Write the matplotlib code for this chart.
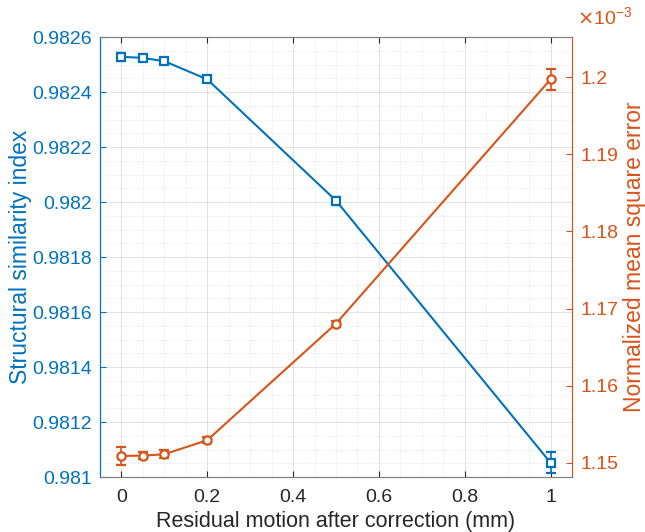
import numpy as np
import matplotlib
matplotlib.use("Agg")
import matplotlib.pyplot as plt
from matplotlib.ticker import MultipleLocator

plt.rcParams['font.family'] = ['Liberation Sans', 'DejaVu Sans']

# data
motion = [0, 0.05, 0.1, 0.2, 0.5, 1.0]
ssim = [0.982528, 0.982524, 0.982512, 0.982446, 0.982005, 0.981052]
ssim_err = [0.000015, 0.000008, 0.000008, 0.000006, 0.000015, 0.000039]
nmse = [1.15091, 1.15095, 1.15113, 1.15295, 1.16805, 1.19970]  # x 1e-3
nmse_err = [0.0012, 0.0005, 0.0005, 0.0004, 0.0004, 0.0014]

blue = '#0072BD'
orange = '#D95319'
dark = '#262626'

fig = plt.figure(figsize=(6.45, 5.32), dpi=100)
ax = fig.add_axes([100/645, 1 - 477/532, 472/645, 440/532])
ax2 = ax.twinx()

ax.errorbar(motion, ssim, yerr=ssim_err, color=blue, lw=1.5, marker='s',
            ms=5.5, mfc='white', mec=blue, mew=1.6, capsize=3.5, elinewidth=1.2, capthick=1.2)
ax2.errorbar(motion, nmse, yerr=nmse_err, color=orange, lw=1.5, marker='o',
             ms=6, mfc='white', mec=orange, mew=1.6, capsize=3.5, elinewidth=1.2, capthick=1.2)

ax.set_xlim(-0.05, 1.05)
ax.set_ylim(0.981, 0.9826)
ax2.set_ylim(1.14818, 1.20519)

ax.set_xticks([0, 0.2, 0.4, 0.6, 0.8, 1])
ax.set_xticklabels(['0', '0.2', '0.4', '0.6', '0.8', '1'])
ax.set_yticks(np.arange(0.981, 0.98261, 0.0002))
ax.set_yticklabels(['0.981', '0.9812', '0.9814', '0.9816', '0.9818', '0.982',
                    '0.9822', '0.9824', '0.9826'])
ax2.set_yticks([1.15, 1.16, 1.17, 1.18, 1.19, 1.2])
ax2.set_yticklabels(['1.15', '1.16', '1.17', '1.18', '1.19', '1.2'])

ax.xaxis.set_minor_locator(MultipleLocator(0.05))
ax.yaxis.set_minor_locator(MultipleLocator(0.00005))

ax.grid(True, which='major', color='#262626', alpha=0.15, lw=0.6)
ax.grid(True, which='minor', color='#262626', alpha=0.15, lw=0.6, ls=':')
ax.set_axisbelow(True)

ax.tick_params(axis='x', which='major', direction='in', top=True, length=4,
               labelsize=14, colors=dark, pad=9)
ax.tick_params(axis='x', which='minor', length=0)
ax.tick_params(axis='y', which='major', direction='in', length=4, labelsize=14,
               colors=blue, pad=6)
ax.tick_params(axis='y', which='minor', length=0)
ax2.tick_params(axis='y', direction='in', length=4, labelsize=14, colors=orange, pad=6)

for a in (ax, ax2):
    a.spines['top'].set_color('#808080')
    a.spines['bottom'].set_color('#808080')
    a.spines['left'].set_color(blue)
    a.spines['right'].set_color(orange)

ax.set_xlabel('Residual motion after correction (mm)', fontsize=15.5, color=dark, labelpad=3)
ax.set_ylabel('Structural similarity index', fontsize=16.5, color=blue, labelpad=0)
ax2.set_ylabel('Normalized mean square error', fontsize=16.5, color=orange, labelpad=3)

fig.text(577/645, 1 - 17/532, r'$\times\mathregular{10^{-3}}$', color=orange,
         fontsize=14, va='center', ha='left')

fig.savefig('out.png', dpi=100)
